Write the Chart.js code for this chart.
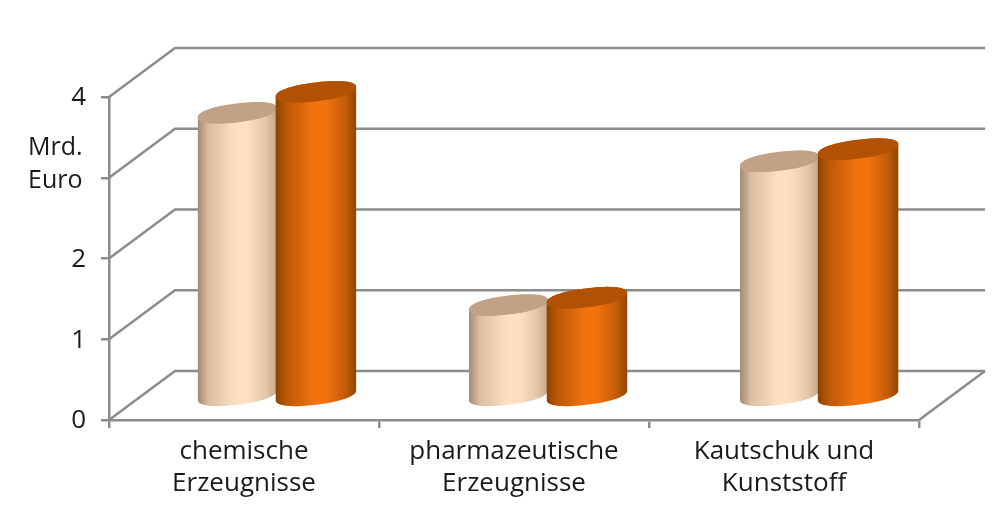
<!DOCTYPE html>
<html><head><meta charset="utf-8">
<style>html,body{margin:0;padding:0;background:#fff}canvas{display:block}</style>
<script src="https://cdn.jsdelivr.net/npm/chart.js@4"></script>
</head><body><canvas id="c" width="1000" height="518"></canvas>
<script>
const categories = [["chemische","Erzeugnisse"],["pharmazeutische","Erzeugnisse"],["Kautschuk und","Kunststoff"]];
const seriesA = [3.5, 1.12, 2.9];
const seriesB = [3.76, 1.21, 3.05];
const yUnitLines = ["Mrd.","Euro"];
const FONT = '"Open Sans", sans-serif';
const GRAY = '#8c8c8c', DX = 66, DY = 49;
const looks = [
  {stops:['#a38a74','#dcbfa3','#fde0c3','#fde0c3','#e6c6a8','#c3a68d'], top:'#c1a287'},
  {stops:['#8a4300','#bd5807','#f2730e','#f2730e','#c45d08','#8f4600'], top:'#b25104'}
];
function ellipsePath(g,cx,cy,ra,rb,k,from,to){
  const N=64, p=0.9;
  for(let i=0;i<=N;i++){
    const t=from+(to-from)*i/N, c=Math.cos(t), s=Math.sin(t);
    const x=ra*Math.sign(c)*Math.pow(Math.abs(c),p), y=rb*Math.sign(s)*Math.pow(Math.abs(s),p)+k*x;
    g.lineTo(cx+x,cy+y);
  }
}
const pseudo3d = {
  id:'pseudo3d',
  beforeDatasetsDraw(ch){
    const g = ch.ctx, y = ch.scales.y, a = ch.chartArea;
    g.save(); g.strokeStyle = GRAY; g.lineWidth = 2.5;
    y.ticks.forEach(t=>{
      const py = y.getPixelForValue(t.value);
      g.beginPath(); g.moveTo(a.left,py); g.lineTo(a.left+DX,py-DY); g.lineTo(a.right+DX,py-DY); g.stroke();
    });
    g.beginPath(); g.moveTo(a.right,a.bottom); g.lineTo(a.right+DX,a.bottom-DY); g.stroke();
    g.restore();
  },
  beforeDatasetDraw(){ return false; },
  afterDatasetsDraw(ch){
    const g = ch.ctx, dep = DY/2, k=-0.12, rb=9.5;
    [0,1].forEach(di=>{
      const look = looks[di];
      ch.getDatasetMeta(di).data.forEach(b=>{
        const off = DX/2 + (b.x-244)*0.004;
        const L = b.x-b.width/2+off-di*1.5, R = b.x+b.width/2+off, cx=(L+R)/2, ra=(R-L)/2;
        const topY = b.y-dep, botY = b.base-dep+1;
        const gr = g.createLinearGradient(L,0,R,0);
        [0,.14,.48,.62,.86,1].forEach((s,i)=>gr.addColorStop(s,look.stops[i]));
        g.beginPath();
        g.moveTo(R,topY+k*ra);
        ellipsePath(g,cx,topY,ra,rb,k,0,-Math.PI);
        ellipsePath(g,cx,botY,ra,rb,k,Math.PI,0);
        g.closePath();
        g.fillStyle = gr; g.fill();
        g.beginPath();
        ellipsePath(g,cx,topY,ra,rb,k,0,Math.PI*2);
        g.closePath();
        g.fillStyle = look.top; g.fill();
      });
    });
  },
  afterDraw(ch){
    const g = ch.ctx;
    g.save(); g.font = '25px '+FONT; g.fillStyle='#1a1a1a'; g.textAlign='left'; g.textBaseline='middle';
    g.fillText(yUnitLines[0],28,148); g.fillText(yUnitLines[1],28,181);
    g.restore();
  }
};
new Chart(document.getElementById('c'),{
  type:'bar',
  data:{labels:categories,datasets:[
    {label:'A',data:seriesA,backgroundColor:'#fde0c3'},
    {label:'B',data:seriesB,backgroundColor:'#f2730e'}
  ]},
  plugins:[pseudo3d],
  options:{
    responsive:false,animation:false,
    layout:{padding:{top:97,right:81,left:0,bottom:0}},
    plugins:{legend:{display:false},tooltip:{enabled:false}},
    datasets:{bar:{categoryPercentage:0.585,barPercentage:1}},
    scales:{
      x:{
        afterFit(s){s.height=98;},
        grid:{drawOnChartArea:false,drawTicks:true,tickLength:8,color:GRAY,lineWidth:2.5},
        border:{color:GRAY,width:2.5},
        ticks:{color:'#1a1a1a',font:{family:FONT,size:26,lineHeight:1.24},padding:7,maxRotation:0,autoSkip:false}
      },
      y:{
        min:0,max:4,
        afterFit(s){s.width=109;},
        grid:{drawOnChartArea:false,drawTicks:true,tickLength:8,color:GRAY,lineWidth:2.5},
        border:{color:GRAY,width:2.5},
        ticks:{stepSize:1,color:'#1a1a1a',font:{family:FONT,size:26},padding:15,labelOffset:1,
          callback:v=>v===3?'':String(v)}
      }
    }
  }
});
</script></body></html>
